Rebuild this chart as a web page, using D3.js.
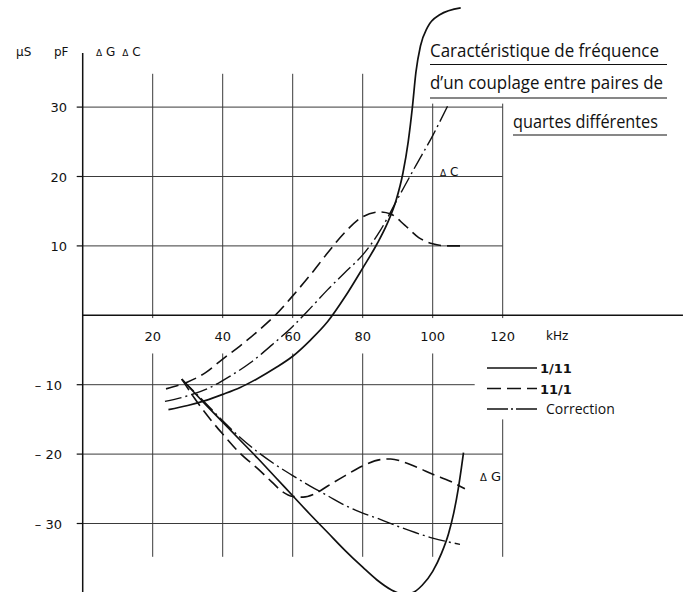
<!DOCTYPE html>
<html>
<head>
<meta charset="utf-8">
<script src="https://cdn.jsdelivr.net/npm/d3@7"></script>
<style>
  html, body { margin: 0; padding: 0; background: #fff; }
  svg { display: block; }
  text { font-family: "DejaVu Sans", "Open Sans", sans-serif; fill: #111; }
  .title { font-family: "Open Sans", "DejaVu Sans", sans-serif; }
</style>
</head>
<body>
<svg id="chart" width="689" height="592"></svg>
<script>
// Frequency axis (kHz) and value axis (µS / pF)
const freqTicks = [20, 40, 60, 80, 100, 120];
const valueTicks = [30, 20, 10, -10, -20, -30];

// ΔC curves (pF) as [kHz, value]
const dcPair111 = [[24.5,-13.6],[30,-13],[35,-12.3],[40,-11.4],[45,-10.4],[50,-9.1],[55,-7.6],[60,-5.9],[65,-3.6],[70,-0.9],[75,2.7],[80,6.8],[84,10.2],[87,13.2],[89.5,16.5],[91.5,20.5],[93,25],[94.2,30],[95.2,35],[96.5,38.8],[98.5,41.5],[102,43.3],[108,44.3]];
const dcPair11_1 = [[23.8,-10.6],[30,-9.6],[35,-8.3],[40,-6.3],[45,-4.4],[50,-2.3],[55,0],[60,2.8],[65,5.8],[70,9],[75,12],[80,14.2],[85,14.9],[88,14.6],[92,13],[96,11.2],[100,10.3],[104,10],[108,10]];
const dcCorrection = [[23.5,-12.4],[30,-11.6],[36,-10.5],[42,-8.8],[48,-6.8],[54,-4.3],[60,-1.6],[65,1],[70,3.7],[75,6.2],[80,8.7],[85,12.2],[90,16.8],[95,21.4],[100,25.9],[104.4,30.3]];

// ΔG curves (µS) as [kHz, value]
const dgPair111 = [[28.3,-9.2],[35,-12.8],[40,-15.4],[45,-18],[50,-20.6],[55,-23.3],[60,-26],[65,-28.7],[70,-31.3],[75,-33.9],[80,-36.3],[84,-38.1],[88,-39.5],[91,-40.1],[94,-40],[97,-38.9],[100,-36.9],[102.5,-34.3],[104.5,-31.5],[106,-28.5],[107.3,-25],[108.2,-22],[108.8,-19.8]];
const dgPair11_1 = [[28.3,-9.2],[32,-12],[36,-14.7],[40,-17.1],[45,-19.9],[50,-22.1],[54,-24],[57,-25.4],[60,-26.1],[63,-26.2],[66,-25.8],[70,-24.6],[75,-23.1],[80,-21.7],[85,-20.8],[88,-20.7],[92,-21.2],[96,-22],[100,-22.9],[105,-23.9],[109.2,-25]];
const dgCorrection = [[28.3,-9.2],[35,-12.6],[40,-15.2],[45,-17.6],[50,-19.7],[55,-21.5],[60,-23.1],[65,-24.6],[70,-26],[75,-27.4],[80,-28.5],[85,-29.4],[90,-30.4],[95,-31.3],[100,-32.1],[104,-32.6],[107.8,-33]];

const legendLabels = ["1/11", "11/1", "Correction"];
const titleLines = ["Caractéristique de fréquence", "d\u2019un couplage entre paires de", "quartes différentes"];

const svg = d3.select("#chart");
const x = d3.scaleLinear().domain([0, 120]).range([82.7, 502.7]);
const y = d3.scaleLinear().domain([0, 30]).range([315.3, 107.1]);

const ink = "#111";
const gridInk = "#3a3a3a";

// Grid: upper half (ΔC)
const gUpper = svg.append("g").attr("stroke", gridInk).attr("stroke-width", 1);
freqTicks.forEach(f => {
  const top = f >= 100 ? 30.5 : 34.8;
  gUpper.append("line").attr("x1", x(f)).attr("x2", x(f)).attr("y1", y(top)).attr("y2", y(-0.4));
});
valueTicks.filter(v => v > 0).forEach(v => {
  gUpper.append("line").attr("x1", x(0)).attr("x2", x(120)).attr("y1", y(v)).attr("y2", y(v));
});

// Grid: lower half (ΔG)
const gLower = svg.append("g").attr("stroke", gridInk).attr("stroke-width", 1);
freqTicks.forEach(f => {
  const top = f === 120 ? -15 : -5.5;
  gLower.append("line").attr("x1", x(f)).attr("x2", x(f)).attr("y1", y(top)).attr("y2", y(-34.8));
});
valueTicks.filter(v => v < 0).forEach(v => {
  const end = v === -10 ? 112 : 120;
  gLower.append("line").attr("x1", x(0)).attr("x2", x(end)).attr("y1", y(v)).attr("y2", y(v));
});

// Axes
svg.append("line").attr("x1", x(0)).attr("x2", x(0)).attr("y1", y(37.8)).attr("y2", 592)
  .attr("stroke", ink).attr("stroke-width", 1.5);
svg.append("line").attr("x1", x(0)).attr("x2", x(171.5)).attr("y1", y(0)).attr("y2", y(0))
  .attr("stroke", ink).attr("stroke-width", 1.5);
valueTicks.forEach(v => {
  svg.append("line").attr("x1", x(0) - 6).attr("x2", x(0)).attr("y1", y(v)).attr("y2", y(v))
    .attr("stroke", ink).attr("stroke-width", 1.2);
});

// Value tick labels
valueTicks.forEach(v => {
  svg.append("text")
    .attr("x", v > 0 ? 67 : 62)
    .attr("y", y(v) + 5)
    .attr("text-anchor", "end")
    .attr("font-size", 13)
    .text(v > 0 ? String(v) : "\u2013 " + Math.abs(v));
});

// Frequency tick labels
freqTicks.forEach(f => {
  svg.append("text")
    .attr("x", x(f))
    .attr("y", y(0) + 26)
    .attr("text-anchor", "middle")
    .attr("font-size", 13)
    .text(f);
});
svg.append("text").attr("x", 546).attr("y", y(0) + 25).attr("font-size", 12).text("kHz");

// Unit and quantity headers
svg.append("text").attr("x", 16).attr("y", 56).attr("font-size", 12).text("µS");
svg.append("text").attr("x", 54).attr("y", 56).attr("font-size", 12).text("pF");
const hdr = svg.append("text").attr("x", 96).attr("y", 56).attr("font-size", 12);
hdr.append("tspan").attr("font-size", 9).text("Δ");
hdr.append("tspan").text(" G");
hdr.append("tspan").attr("dx", 7).attr("font-size", 9).text("Δ");
hdr.append("tspan").text(" C");

// Curve labels
const lblC = svg.append("text").attr("x", 440).attr("y", 176).attr("font-size", 12);
lblC.append("tspan").attr("font-size", 9).text("Δ");
lblC.append("tspan").text(" C");
const lblG = svg.append("text").attr("x", 480).attr("y", 481).attr("font-size", 13);
lblG.append("tspan").attr("font-size", 10).text("Δ");
lblG.append("tspan").text(" G");

// Curves
const line = d3.line()
  .x(d => x(d[0]))
  .y(d => y(d[1]))
  .curve(d3.curveMonotoneX);

const styles = [
  { dash: null, width: 1.7 },
  { dash: "13,6", width: 1.6 },
  { dash: "17,4,2,4", width: 1.4 }
];
const curves = [
  [dcPair111, 0], [dcPair11_1, 1], [dcCorrection, 2],
  [dgPair111, 0], [dgPair11_1, 1], [dgCorrection, 2]
];
curves.forEach(([data, s]) => {
  svg.append("path")
    .attr("d", line(data))
    .attr("fill", "none")
    .attr("stroke", ink)
    .attr("stroke-width", styles[s].width)
    .attr("stroke-dasharray", styles[s].dash)
    .attr("stroke-linecap", "butt");
});

// Legend
const legendDash = [null, "14,6", "21,3,2,3"];
legendLabels.forEach((lab, i) => {
  const ly = 368 + i * 20.5;
  svg.append("line").attr("x1", 487).attr("x2", 537).attr("y1", ly).attr("y2", ly)
    .attr("stroke", ink).attr("stroke-width", 1.6)
    .attr("stroke-dasharray", legendDash[i]);
  svg.append("text").attr("x", i === 2 ? 546 : 540).attr("y", ly + 5)
    .attr("font-size", i === 2 ? 14 : 13)
    .attr("font-weight", i === 2 ? "normal" : "bold")
    .attr("class", i === 2 ? "title" : null)
    .text(lab);
});

// Title block with underlines
const titleRows = [
  { x0: 430, base: 57, ul: 64.5, len: 229 },
  { x0: 430, base: 89, ul: 98, len: 233 },
  { x0: 513, base: 128, ul: 135, len: 145 }
];
titleLines.forEach((t, i) => {
  const r = titleRows[i];
  svg.append("text").attr("class", "title").attr("x", r.x0).attr("y", r.base)
    .attr("font-size", 18)
    .attr("textLength", r.len)
    .attr("lengthAdjust", "spacingAndGlyphs")
    .text(t);
  svg.append("line").attr("x1", r.x0).attr("x2", 667).attr("y1", r.ul).attr("y2", r.ul)
    .attr("stroke", ink).attr("stroke-width", 1.2);
});
</script>
</body>
</html>
